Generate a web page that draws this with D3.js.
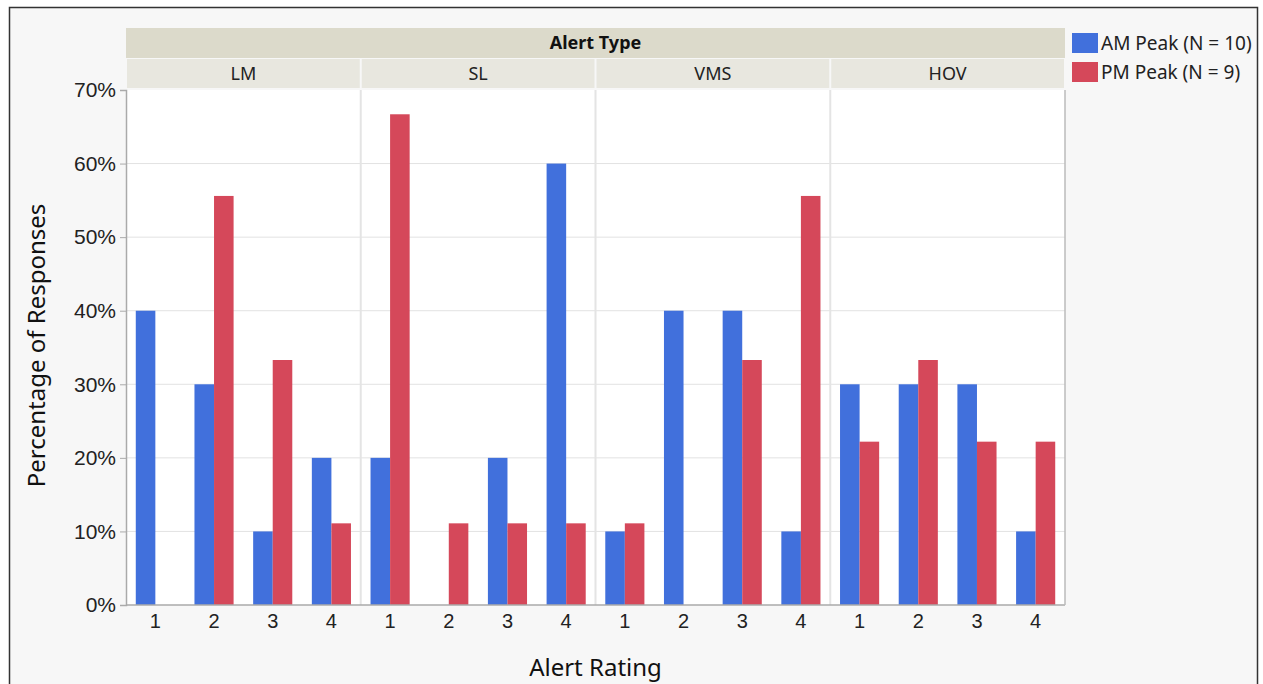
<!DOCTYPE html>
<html>
<head>
<meta charset="utf-8">
<script src="https://cdn.jsdelivr.net/npm/d3@7"></script>
<style>
  body { margin: 0; background: #fff; }
  svg { display: block; font-family: "Noto Sans", "Open Sans", sans-serif; }
</style>
</head>
<body>
<div id="chart"></div>
<script>
// data
const alertTypes = ["LM", "SL", "VMS", "HOV"];
const ratings = ["1", "2", "3", "4"];
const seriesNames = ["AM Peak (N = 10)", "PM Peak (N = 9)"];
const amPeak = [40, 30, 10, 20,   20, 0, 20, 60,   10, 40, 40, 10,   30, 30, 30, 10];
const pmPeak = [0, 55.6, 33.3, 11.1,   66.7, 11.1, 11.1, 11.1,   11.1, 0, 33.3, 55.6,   22.2, 33.3, 22.2, 22.2];
const yTicks = [0, 10, 20, 30, 40, 50, 60, 70];
const colors = ["#4170dc", "#d5485a"];

// flatten into rows
let rows = [];
alertTypes.forEach((t, i) => {
    ratings.forEach((r, j) => {
        rows.push({type: t, rating: r, series: 0, value: amPeak[i * 4 + j]});
        rows.push({type: t, rating: r, series: 1, value: pmPeak[i * 4 + j]});
    });
});

const W = 1263, H = 684;
const margin = {left: 126, right: 198, top: 90, bottom: 79};
const width = W - margin.left - margin.right;
const height = H - margin.top - margin.bottom;

let svg = d3.select("#chart").append("svg")
    .attr("width", W)
    .attr("height", H);

// outer frame
svg.append("rect")
    .attr("x", 9.5).attr("y", 7.5)
    .attr("width", 1248).attr("height", 700)
    .attr("fill", "#f7f7f7")
    .attr("stroke", "#333")
    .attr("stroke-width", 1.5);

let g = svg.append("g")
    .attr("transform", "translate(" + margin.left + "," + margin.top + ")");

// scales
let xPanel = d3.scaleBand().domain(alertTypes).range([0, width]);
let xCat = d3.scaleBand().domain(ratings).range([0, xPanel.bandwidth()]);
let xSer = d3.scaleBand().domain([0, 1]).range([0, xCat.bandwidth()]).paddingOuter(0.5).paddingInner(0);
let y = d3.scaleLinear().domain([0, 70]).range([height, 0]);

// plot background
g.append("rect")
    .attr("width", width).attr("height", height)
    .attr("fill", "#fff");

// grid lines
g.selectAll(".grid")
    .data(yTicks.filter(d => d > 0 && d < 70))
    .enter().append("line")
    .attr("x1", 0).attr("x2", width)
    .attr("y1", d => y(d)).attr("y2", d => y(d))
    .attr("stroke", "#e2e2e2")
    .attr("stroke-width", 1);

// panel separators
g.selectAll(".sep")
    .data(alertTypes.slice(1))
    .enter().append("line")
    .attr("x1", d => xPanel(d)).attr("x2", d => xPanel(d))
    .attr("y1", 0).attr("y2", height)
    .attr("stroke", "#e4e4e4")
    .attr("stroke-width", 2);

// bars
g.selectAll(".bar")
    .data(rows)
    .enter().append("rect")
    .attr("class", "bar")
    .attr("x", d => xPanel(d.type) + xCat(d.rating) + xSer(d.series))
    .attr("width", xSer.bandwidth())
    .attr("y", d => y(d.value))
    .attr("height", d => height - y(d.value))
    .attr("fill", d => colors[d.series]);

// y axis
let yAxis = d3.axisLeft(y)
    .tickValues(yTicks)
    .tickSize(6)
    .tickFormat(d => d + "%");

let yAx = g.append("g").call(yAxis);
yAx.select(".domain").attr("stroke", "#aaa").attr("stroke-width", 1.5);
yAx.selectAll(".tick line").attr("stroke", "#aaa");
yAx.selectAll(".tick text")
    .attr("x", -10)
    .style("font-size", "21px")
    .style("fill", "#222");

// bottom axis line and right border
g.append("line")
    .attr("x1", 0).attr("x2", width)
    .attr("y1", height).attr("y2", height)
    .attr("stroke", "#aaa").attr("stroke-width", 1.5);
g.append("line")
    .attr("x1", width).attr("x2", width)
    .attr("y1", 0).attr("y2", height)
    .attr("stroke", "#bbb").attr("stroke-width", 1.5);

// x tick labels per panel
alertTypes.forEach(t => {
    let xa = d3.axisBottom(xCat).tickSize(0).tickPadding(9);
    let ax = g.append("g")
        .attr("transform", "translate(" + xPanel(t) + "," + height + ")")
        .call(xa);
    ax.select(".domain").remove();
    ax.selectAll(".tick text")
        .style("font-size", "20px")
        .style("fill", "#222");
});

// header bands
g.append("rect")
    .attr("x", 0).attr("y", -62)
    .attr("width", width).attr("height", 30)
    .attr("fill", "#dcdacb");
g.append("text")
    .attr("x", width / 2).attr("y", -41)
    .attr("text-anchor", "middle")
    .style("font-size", "18px")
    .style("font-weight", "bold")
    .style("fill", "#111")
    .text("Alert Type");

g.selectAll(".subhead")
    .data(alertTypes)
    .enter().append("rect")
    .attr("x", d => xPanel(d) + 1)
    .attr("y", -31)
    .attr("width", xPanel.bandwidth() - 2)
    .attr("height", 29)
    .attr("fill", "#e8e7df");

g.selectAll(".subtext")
    .data(alertTypes)
    .enter().append("text")
    .attr("x", d => xPanel(d) + xPanel.bandwidth() / 2)
    .attr("y", -10)
    .attr("text-anchor", "middle")
    .style("font-size", "18px")
    .style("fill", "#222")
    .text(d => d);

// axis titles
svg.append("text")
    .attr("transform", "rotate(-90)")
    .attr("x", -(margin.top + height / 2) + 2)
    .attr("y", 45)
    .attr("text-anchor", "middle")
    .style("font-size", "24px")
    .style("fill", "#111")
    .text("Percentage of Responses");

svg.append("text")
    .attr("x", margin.left + width / 2)
    .attr("y", 676)
    .attr("text-anchor", "middle")
    .style("font-size", "24px")
    .style("fill", "#111")
    .text("Alert Rating");

// legend
let legend = svg.append("g")
    .attr("transform", "translate(1072,33)");

seriesNames.forEach((s, i) => {
    let item = legend.append("g")
        .attr("transform", "translate(0," + (i * 29) + ")");
    item.append("rect")
        .attr("width", 26).attr("height", 20)
        .attr("fill", colors[i]);
    item.append("text")
        .attr("x", 29).attr("y", 17)
        .style("font-size", "19px")
        .style("fill", "#222")
        .text(s);
});
</script>
</body>
</html>
